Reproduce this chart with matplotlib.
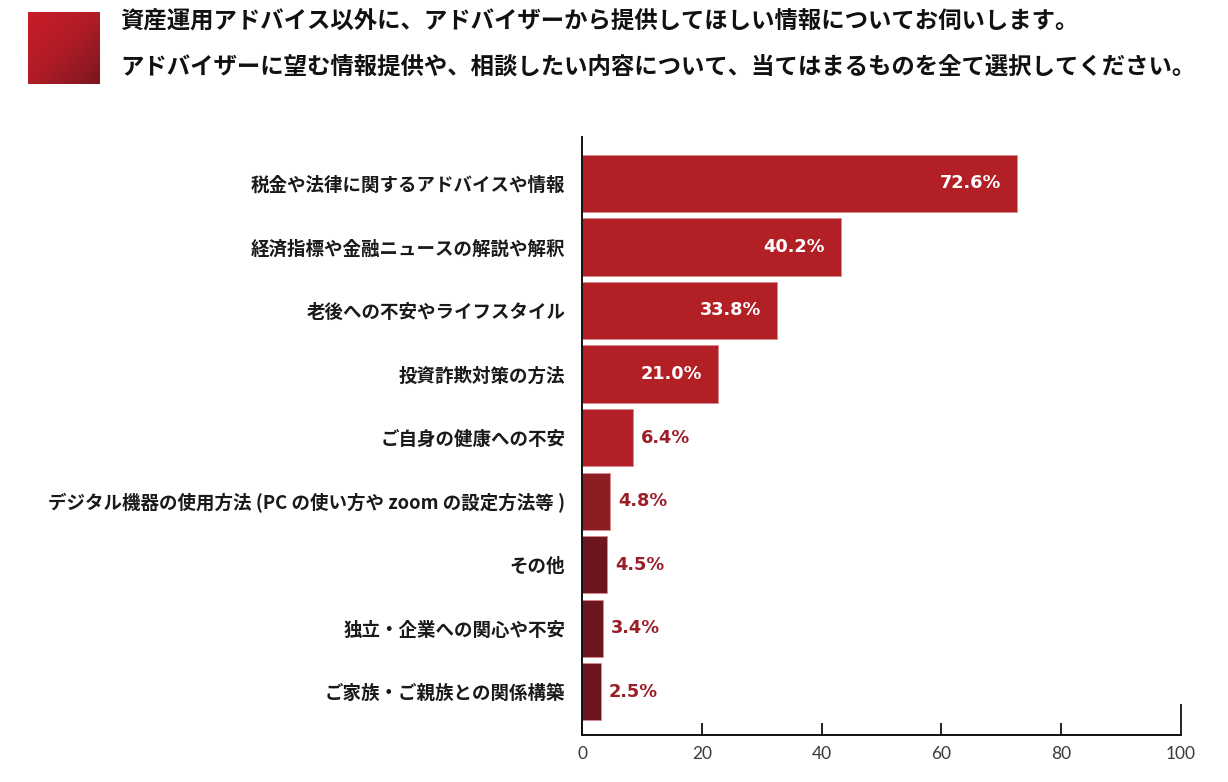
import numpy as np
import matplotlib
matplotlib.use("Agg")
import matplotlib.pyplot as plt
from matplotlib.colors import LinearSegmentedColormap

plt.rcParams['font.family'] = ['Noto Sans CJK JP', 'DejaVu Sans']

# question text
title_lines = [
    "資産運用アドバイス以外に、アドバイザーから提供してほしい情報についてお伺いします。",
    "アドバイザーに望む情報提供や、相談したい内容について、当てはまるものを全て選択してください。",
]

categories = [
    "税金や法律に関するアドバイスや情報",
    "経済指標や金融ニュースの解説や解釈",
    "老後への不安やライフスタイル",
    "投資詐欺対策の方法",
    "ご自身の健康への不安",
    "デジタル機器の使用方法 (PC の使い方や zoom の設定方法等 )",
    "その他",
    "独立・企業への関心や不安",
    "ご家族・ご親族との関係構築",
]
# printed percentages
pct_values = [72.6, 40.2, 33.8, 21.0, 6.4, 4.8, 4.5, 3.4, 2.5]
# bar lengths as drawn in the original (they don't all match the printed numbers)
bar_lengths = [72.6, 43.2, 32.6, 22.7, 8.5, 4.7, 4.2, 3.5, 3.2]
bar_colors = ["#B21F25", "#B21F25", "#B21F25", "#B21F25", "#B42028",
              "#8C1D23", "#6E1620", "#6E1620", "#6E1620"]
xticks = [0, 20, 40, 60, 80, 100]

W, H = 1228, 782
fig = plt.figure(figsize=(W / 100, H / 100), dpi=100)

# red square with gradient, top left
sq = fig.add_axes([28 / W, 1 - 84 / H, 72 / W, 72 / H])
g = np.add.outer(np.linspace(0, 1, 100), np.linspace(0, 1, 100)) / 2
cmap = LinearSegmentedColormap.from_list("sq", ["#C81C28", "#B01D26", "#7A1520"])
sq.imshow(g, cmap=cmap, aspect="auto")
sq.axis("off")

fig.text(120 / W, 1 - 22 / H, title_lines[0], fontsize=16.85, fontweight="bold",
         va="center", ha="left", color="#111111")
fig.text(120 / W, 1 - 68 / H, title_lines[1], fontsize=16.85, fontweight="bold",
         va="center", ha="left", color="#111111")

ax = fig.add_axes([582 / W, 1 - 735 / H, (1181 - 582) / W, (735 - 137) / H])
y = np.arange(len(categories))
bars = ax.barh(y, bar_lengths, height=0.9, color=bar_colors,
               edgecolor="#d98a8f", linewidth=0.6)

ax.set_xlim(0, 100)
ax.set_ylim(8.68, -0.73)
ax.set_yticks(y)
ax.set_yticklabels(categories, fontsize=13.3, fontweight="bold", color="#1a1a1a")
ax.tick_params(axis="y", length=0, pad=12)

ax.set_xticks(xticks)
ax.set_xticklabels([str(t) for t in xticks], fontsize=12.5, color="#3a3a3a",
                   family=["Lato", "DejaVu Sans"], fontweight="normal")
ax.tick_params(axis="x", direction="in", length=8.6, width=1.3, color="#111111", pad=8)
ax.xaxis.get_major_ticks()[-1].tick1line.set_markersize(22)

for s in ["top", "right"]:
    ax.spines[s].set_visible(False)
for s in ["left", "bottom"]:
    ax.spines[s].set_linewidth(1.4)
    ax.spines[s].set_color("#111111")

for i, (L, v) in enumerate(zip(bar_lengths, pct_values)):
    txt = f"{v:.1f}%"
    if L > 15:
        ax.text(L - 2.6, i, txt, ha="right", va="center", color="white",
                fontsize=12.8, fontweight="bold", family=["DejaVu Sans"])
    else:
        ax.text(L + 1.3, i, txt, ha="left", va="center", color="#9B1E27",
                fontsize=12.8, fontweight="bold", family=["DejaVu Sans"])

fig.savefig("out.png", dpi=100)
